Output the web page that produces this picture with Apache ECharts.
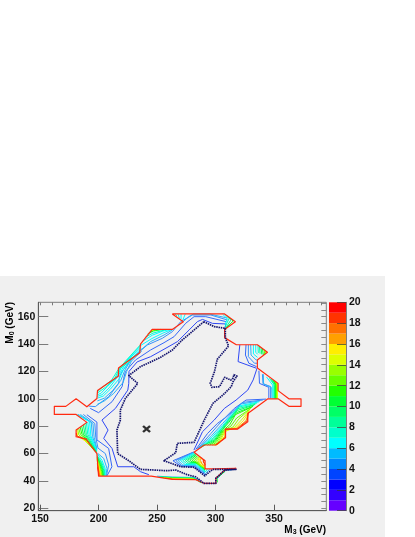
<!DOCTYPE html>
<html><head><meta charset="utf-8">
<style>html,body{margin:0;padding:0;background:#fff}#c{width:415px;height:537px}</style>
<script src="https://cdn.jsdelivr.net/npm/echarts@6/dist/echarts.min.js"></script>
</head><body><div id="c"></div>
<script>
const xMajor=[150,200,250,300,350];
const xMinor=[150,160,170,180,190,200,210,220,230,240,250,260,270,280,290,300,310,320,330,340,350,360,370,380,390];
const yMajor=[20,40,60,80,100,120,140,160];
const yMinor=[20,25,30,35,40,45,50,55,60,65,70,75,80,85,90,95,100,105,110,115,120,125,130,135,140,145,150,155,160,165,170];
const paletteColors=['#6600ff','#3300ff','#0000ff','#0044ff','#0088ff','#00bbff','#00ffff','#00ffcc','#00ff99','#00ff66','#00ff33','#22ff00','#66ff00','#99ff00','#ddff00','#ffee00','#ffa000','#ff7000','#ff3300','#ff0000'];
const bestFit=[241,78];
const boundary=[[263,162],[307.7,162],[316.9,156.3],[307.7,150.7],[307.7,144.7],[317.7,139.5],[335.7,139.5],[344.3,134],[335.7,128.3],[335.7,122.5],[353.4,111.3],[353.4,106],[362.6,100],[373,100],[373,94.5],[362.6,94.5],[353.4,100],[344.7,100],[327.5,89.3],[327.5,83.3],[318.9,77.9],[308.5,77.9],[308.5,71.5],[300,66.3],[290.2,66.3],[281.6,61],[291,54.8],[291,48.9],[299,48.9],[317.4,49.3],[317.4,48],[308,48],[300.2,42],[300.2,38.3],[290,38.3],[283,41],[263,41.2],[245,43.6],[200,43.6],[198.6,60],[189.4,70.6],[180.8,72.3],[180.8,77.2],[190,82.8],[180.8,88.6],[162.2,88.6],[162.2,94.5],[172,94.5],[180.8,100],[190,94.2],[198.6,100.3],[199.1,106],[217,116.6],[217,122.5],[235.2,133.7],[235.8,140],[245.8,150.7],[263,150.7],[272.4,156.3],[263,162]];
const navyLine=[[290,156.3],[271.5,143],[263,135.6],[253,130.3],[235.8,123.5],[225.8,117],[233.5,111.3],[222.9,100.3],[218.6,91.8],[218.6,84.5],[215.7,77.2],[216.3,60],[225.8,54.8],[235.8,48.5],[258.6,47.5],[266,48],[276,44.5],[283,43],[290,38.3],[300.2,38.3],[300.2,42],[308,48],[317.4,48.5],[297.4,48.5],[290.8,43.8],[281.6,50],[270.2,50.4],[255.8,54.8],[265.9,60.6],[267.3,67.5],[281.6,68.2],[290.6,85],[297.7,96.7],[306.3,102.8],[313.4,108.9],[314.9,112.5],[318.3,116.6],[315.7,117.6],[314.9,115.2],[312.9,113.7],[307.7,115.7],[303.4,108.9],[296.9,108.4],[295.4,111.3],[299,119.8],[301.4,128.8],[311.1,138.6],[308.3,144.7],[308.3,151.5],[299,152.7],[290,156.3]];
const blueLines=[
 [2,[[308,151],[308.8,154.7],[297.4,155.1],[288.8,158],[284.5,156.4],[277.4,150.3],[267.4,141.8],[255.9,136.2],[244.5,130.8],[233,127],[226,120],[225.8,111.3],[225,106.4],[214.4,93],[202.9,84.5],[208.1,77.2],[204.4,71.1],[211.5,63.8],[216.4,50.4],[230.1,50.4],[235.8,46.8],[243,44.6]]],
 [2,[[320.7,139.4],[319.2,127.2],[335,122.3]]],
 [2,[[335.3,122],[332.1,113.8],[327.5,106.4],[317.5,99.1],[307.5,93],[298.8,84.5],[288.8,76],[281.5,62.6]]],
 [3,[[308.8,156.4],[291.6,160],[281.6,160],[274.5,155.2],[264.5,145.4],[255.9,141],[244.5,135.7],[231.6,128.4],[223,120],[221.5,115],[220.1,108.9],[211.5,97.9],[200,89.9],[192.9,93]]],
 [3,[[190,88.4],[198.6,83],[198.6,70],[208.6,63.8],[211.4,50.4],[207.2,43.8]]],
 [3,[[326,139.4],[325.5,132],[328.4,126],[335,123.5]]],
 [3,[[337,120.5],[337.5,111.3],[345.5,108.4],[345.5,100.4]]],
 [3,[[343.2,99.8],[326,99.1],[316,93],[307.5,85.7],[301.5,82],[293.1,74.7],[283.1,63]]],
 [4,[[310,157.6],[296,161.2],[280.2,161.2],[270.2,156.4],[263,149],[254.5,144.2],[241.6,139.3],[230,130.8],[220,120],[217.8,116.2],[217.2,111.3],[208.7,101.6],[197.2,94.3],[191.5,94.7]]],
 [4,[[187,88.6],[196.8,82],[197.6,72],[199.5,64],[205.8,60],[208.7,51.6],[206.7,43.8]]],
 [4,[[328,139.4],[328,130.8],[333.2,126],[335.4,126]]],
 [4,[[340,118],[340.5,111],[347,109],[347,100.4]]],
 [4,[[340.3,99.1],[323.1,97.4],[314.5,90.6],[306,84.5],[296,74.7],[284.5,63.5]]]
];
const fanLowerLeft=[
 [5,[[199.2,60.2],[204.4,56.5],[207.2,49.2],[206.2,43.8]]],[6,[[199,59.8],[203,55],[205.7,49],[205.7,43.8]]],
 [7,[[198.9,58.5],[202.5,54],[205,48.5],[205.2,43.8]]],[8,[[198.9,58],[202,53.5],[204.4,48],[204.7,43.8]]],
 [9,[[198.8,57.5],[201.6,53],[203.8,48],[204.3,43.8]]],[10,[[198.8,57],[201.2,52.5],[203.2,48],[203.8,43.8]]],
 [11,[[198.8,56.5],[200.8,52],[202.7,47],[203.3,43.8]]],[12,[[198.8,56],[200.5,52],[202.2,47],[202.8,43.8]]],
 [13,[[198.8,55.5],[200.2,52],[201.8,47],[202.4,43.8]]],[14,[[198.8,55],[200,51.5],[201.4,47],[202,43.8]]],
 [15,[[198.9,54],[200,50],[201,46.5],[201.6,43.8]]],[16,[[198.9,53],[199.8,49],[200.8,46],[201.2,43.8]]],
 [17,[[199,52],[199.8,48],[200.6,43.8]]],[18,[[199.2,50],[199.8,47],[200.3,43.8]]]
];
const fanLeftNotch=[
 [5,[[184.5,88.6],[195.2,82],[196.2,72],[198.6,63.5]]],[5,[[182.5,88.6],[193.7,83],[194.8,72.5],[198.6,62.8]]],
 [6,[[181.8,88.4],[192.3,83.2],[193.4,73],[198.5,62.2]]],[6,[[190.8,83],[192,74],[198.4,61.8]]],
 [7,[[189.6,82.3],[190.8,74],[198.3,61.5]]],[8,[[188.3,81.5],[189.6,74],[198.2,61.2]]],
 [9,[[187,80.8],[188.4,74.2],[198.1,61]]],[10,[[185.6,79.9],[187,74.3],[198,60.8]]],
 [11,[[184.3,79.3],[185.8,74.2],[197,61.5]]],[12,[[183,78.5],[184.6,73.9],[195.5,63]]],
 [13,[[182,78],[183.2,73.6],[193.5,65.2]]],[15,[[181.4,77.5],[182,73],[191.5,67.6]]],[18,[[181,75],[181.4,72.8],[190,70.2]]]
];
const fanUpperLeft=[
 [5,[[237,135],[228,127.5],[224,120],[221,112],[213,104],[205,98.5],[199,96]]],
 [5,[[236.5,136],[227,127.5],[222.5,121],[219,113.5],[212,106],[205,100.5],[199,98.5]]],
 [6,[[236.5,137],[226,127.5],[221,121],[218,115],[210,107],[204,102],[199,100.5]]],
 [6,[[236,138],[225,128],[220,121.5],[216.5,116.3],[209,108],[203,103],[199,101.8]]],
 [6,[[236,139],[224,128],[219,122],[215,115.3],[207.5,109],[202,104],[199,103]]],
 [7,[[235.8,139.5],[223,127.5],[218.2,122.5],[213.5,114.5],[206,108.5],[199,104.2]]],
 [7,[[232,132],[222,126.2],[217.6,122.5],[211,113.5],[204,109],[199,105.2]]],
 [7,[[227,127.5],[217.4,121.5],[217.3,118]]]
];
const fanTopLeft=[
 [5,[[234.5,134.5],[244.5,141.8],[255.9,146.6],[263,150.3]]],[6,[[236,139],[245.5,144],[255,148],[262,150.5]]],
 [6,[[237.5,142],[246,146.5],[255,149.5],[261,150.7]]],[7,[[240,145],[246.5,148],[256,150.2]]],
 [9,[[242,147.5],[247,149.5],[254,150.6]]],[11,[[243.5,148.5],[247.3,150],[253,150.7]]],
 [13,[[244.5,149.5],[247.8,150.5],[251,150.7]]],[15,[[245.3,150.2],[248,150.7]]]
];
const fanTop=[
 [5,[[272.5,156.5],[277,160],[281,161.9],[295,161.9],[310,159]]],[6,[[274,161.8],[272,157.5]]],[6,[[270.5,161.8],[270.5,158.2]]],
 [6,[[268,161.8],[269,159]]],[7,[[265.5,161.8],[267,160.5]]],
 [6,[[306,161.8],[310,158.5],[308,154]]],[7,[[308,161.8],[311.5,158.5],[308,152.5]]],[8,[[310,160.7],[313,157.5],[308.5,151.5]]],[10,[[312,159.3],[315,156.8],[308,151]]]
];
const fanRightTop=[
 [5,[[330,139.4],[330.3,132],[334.6,128.4],[336,128.4]]],[6,[[332.3,139.4],[332.3,132.8],[335.8,130.3]]],
 [6,[[334.3,139.4],[334.3,134],[336,132.5]]],[7,[[336.2,139],[336.5,133.5]]],[8,[[337.5,138.5],[338,133]]],
 [9,[[338.8,137.5],[339.5,132.5]]],[10,[[340,136.8],[340.8,132]]],[12,[[341.5,135.8],[342,132.5]]],[13,[[342.8,135],[342.8,133.2]]]
];
const fanRightMid=[
 [5,[[340.8,118],[341,111],[348,108],[348.2,100.4]]],[6,[[343.5,116],[348.8,110],[349,100.2]]],
 [7,[[346,115],[349.8,110.5],[349.8,100.2]]],[8,[[347.3,114.5],[350.3,110],[350.3,100.2]]],[9,[[348.5,114],[350.8,110.5],[350.8,100.2]]],
 [10,[[349.5,113.5],[351.3,110],[351.3,100.2]]],[11,[[350.5,113],[351.7,110],[351.7,100.2]]],[12,[[351.3,112.5],[352.1,110],[352.1,100.2]]],
 [13,[[352,112.2],[352.5,110],[352.5,100.2]]],[14,[[352.8,111.6],[352.9,105],[352.9,100.2]]]
];
const fanLowerRight=[
 [5,[[338,98.5],[322,96.3],[313.5,89],[306,82],[296.5,73],[285,63.3]]],
 [6,[[337,97.8],[321,95],[313,87.5],[306,80.5],[297,72],[286,63.8]]],
 [7,[[335.5,97],[320,94],[312,86],[306,79.5],[298,71.5],[287,64.2]]],
 [8,[[334,96],[319,92.8],[311.5,85],[305.5,78.5],[298.5,70.7],[288,64.8]]],
 [9,[[333,95.5],[318.5,91.5],[311,83.5],[305.5,77.5],[299,70],[289,65.4]]],
 [10,[[332,94.5],[318,90],[311,82.5],[306,77.5],[299.5,69.5],[293,66.2]]],
 [11,[[331,94],[317,88.5],[312,81],[306.5,77],[300,69],[295,66.2]]],
 [12,[[330,93],[318,86],[313,80],[307,76.8],[301,68.5],[297,66.2]]],
 [13,[[329.5,92.5],[320,85.5],[315,79.5],[307.5,76.3],[302,68],[298.5,66.2]]],
 [14,[[329,91.5],[322,84.5],[316,79],[308,76],[303,67.5],[299.5,66.2]]],
 [15,[[328.6,90.8],[324,84.3],[317,78.7],[308.1,77],[308,73],[303,67.6],[300,66.3]]],
 [16,[[328.3,90.5],[326,84],[318,78.5],[308.2,77.6],[308.2,72.5],[303,67.6],[300.5,66.3]]],
 [18,[[328,90],[327,84],[318.5,78.1],[308.4,77.8],[308.4,71.8],[300.4,66.3]]]
];
const fanCentre=[
 [3,[[281.3,61.2],[263.6,54.8],[270,51],[281.6,50.5],[290.8,44.6]]],[4,[[281.3,61],[266,55],[271,51.2],[282,51],[290.8,45.5]]],
 [5,[[281.5,60.8],[268,55],[272,51.6],[282.5,51.5],[291,46]]],[6,[[281.7,60.5],[270,55],[274,52],[283,52],[291,46.5]]],
 [7,[[282,60],[272,55],[275.5,52.5],[283.5,52.5],[291,47]]],[8,[[282.5,59.5],[274,55],[277,53],[284,53],[291,47.5]]],
 [9,[[283,59.5],[276,55],[278.5,53.5],[284.5,53.5],[291,48]]],[10,[[283.5,59],[278,55],[280,54],[285,53.5],[291,48.5]]],
 [11,[[284.3,58.5],[280,55],[285,52.2],[291,48.8]]],[12,[[285,58],[282,55],[285.5,52],[291,49]]],
 [13,[[286,57.5],[283.5,55],[286,52],[291,49.5]]],[14,[[286.5,57.8],[285,55],[287,52],[291,50]]],
 [15,[[287.5,57.5],[286,55],[288,52.5],[291,50.5]]],[16,[[288,57],[287,55],[288.8,52],[291,51]]],
 [17,[[289,56],[288,55],[291,51.5]]],[18,[[290,55.5],[289.5,54],[291,52]]]
];
const fanBottomStrip=[
 [5,[[250,43.5],[263,42.9],[281.5,42.6],[288,39]]],[7,[[252,43.2],[263,42.6],[281.5,42.3],[287.8,38.8]]],
 [9,[[253,42.9],[263,42.4],[281.5,42],[287.6,38.6]]],[11,[[254,42.7],[263,42.1],[281.5,41.8]]],
 [13,[[255,42.4],[263,41.9],[281.5,41.5]]],[15,[[256,42.3],[263,41.7],[281.5,41.3]]],[17,[[257,42.1],[263,41.5],[282,41.1]]]
];
const fanSmall=[
 [5,[[295,48.7],[291.5,45.5],[290.8,44]]],[7,[[293,48.7],[291.2,46.5]]],
 [5,[[301,41.5],[308.5,47.5],[314,48.2]]],[8,[[300.8,41.8],[308,47.7]]],[10,[[301.5,39],[301.2,42.3],[308,47]]]
];
const levelLineColors=paletteColors.map((c,i)=>({2:'#2f48f5',3:'#3468f8',4:'#3790fa',5:'#28b4fa'}[i]||c));
const allFans=[blueLines,fanLowerLeft,fanLeftNotch,fanUpperLeft,fanTopLeft,fanTop,fanRightTop,fanRightMid,fanLowerRight,fanCentre,fanBottomStrip,fanSmall];
const lineSeries=(pts,color,width,type)=>({type:'line',xAxisIndex:0,yAxisIndex:0,data:pts,showSymbol:false,symbol:'none',silent:true,animation:false,z:3,
  lineStyle:{color,width,type:type||'solid',join:'round'}});
const series=[];
allFans.forEach(f=>f.forEach(([lv,pts])=>series.push(lineSeries(pts,levelLineColors[lv],1))));
series.push(Object.assign(lineSeries(boundary,'#ff2a10',1.2),{z:4}));
series.push(Object.assign(lineSeries(navyLine,'#14146e',1.7,[1.5,0.8]),{z:5}));
series.push({type:'scatter',xAxisIndex:0,yAxisIndex:0,data:[bestFit],symbol:'path://M0 0L10 10M10 0L0 10',symbolSize:[7,6],silent:true,animation:false,z:6,
  itemStyle:{color:'none',borderColor:'#000',borderWidth:2.2}});
paletteColors.forEach(c=>series.push({type:'bar',xAxisIndex:2,yAxisIndex:2,stack:'palette',data:[1],barWidth:'100%',itemStyle:{color:c},silent:true,animation:false,z:2}));
const font={fontFamily:'Liberation Sans',fontWeight:'bold',fontSize:10.5,color:'#111'};
const line={lineStyle:{color:'#5a5a5a',width:1}};
const mainX={type:'value',min:148.5,max:394.6,gridIndex:0,splitLine:{show:false}};
const mainY={type:'value',min:18.3,max:170.5,gridIndex:0,splitLine:{show:false}};
const titleRich={rich:{a:{...font,fontSize:10},b:{...font,fontSize:7,verticalAlign:'bottom',padding:[5,0,0,0]}}};
const chart=echarts.init(document.getElementById('c'),null,{renderer:'canvas'});
chart.setOption({
 animation:false,
 backgroundColor:'#ffffff',
 graphic:[
  {type:'rect',z:-10,silent:true,shape:{x:0,y:276,width:385,height:261},style:{fill:'#f0f0f0'}},
  {type:'text',z:10,silent:true,right:89,top:525,style:{text:'{a|M}{b|3}{a| (GeV)}',...titleRich}},
  {type:'text',z:10,silent:true,left:5,top:302,rotation:Math.PI/2,style:{text:'{a|M}{b|0}{a| (GeV)}',...titleRich}}
 ],
 grid:[
  {left:38.3,top:302.3,width:288,height:208.4,show:true,backgroundColor:'#f0f0f0',borderColor:'#7c7c7c',borderWidth:1},
  {left:329,top:302.3,width:17,height:208.4}
 ],
 xAxis:[
  {...mainX,axisLine:{show:true,onZero:false,...line},axisTick:{show:true,inside:true,length:6,customValues:xMajor,...line},axisLabel:{show:true,margin:3,customValues:xMajor,formatter:v=>v,...font}},
  {...mainX,axisLine:{show:false},axisTick:{show:true,inside:true,length:3,customValues:xMinor,lineStyle:{color:'#7a7a7a',width:1}},axisLabel:{show:false}},
  {type:'category',gridIndex:1,data:['palette'],axisLine:{show:false},axisTick:{show:false},axisLabel:{show:false}}
 ],
 yAxis:[
  {...mainY,axisLine:{show:true,onZero:false,...line},axisTick:{show:true,inside:true,length:10,customValues:yMajor,lineStyle:{color:'#7a7a7a',width:1}},axisLabel:{show:true,margin:3,customValues:yMajor,formatter:v=>v,...font}},
  {...mainY,axisLine:{show:false},axisTick:{show:true,inside:true,length:5,customValues:yMinor,lineStyle:{color:'#8a8a8a',width:1}},axisLabel:{show:false}},
  {type:'value',gridIndex:1,min:0,max:20,interval:2,position:'right',z:5,splitLine:{show:false},axisLine:{show:true,lineStyle:{color:'#7c7c7c'}},axisTick:{show:true,inside:true,length:9,lineStyle:{color:'#333',width:1,opacity:0.7}},axisLabel:{margin:3,...font}}
 ],
 series
});
</script></body></html>
